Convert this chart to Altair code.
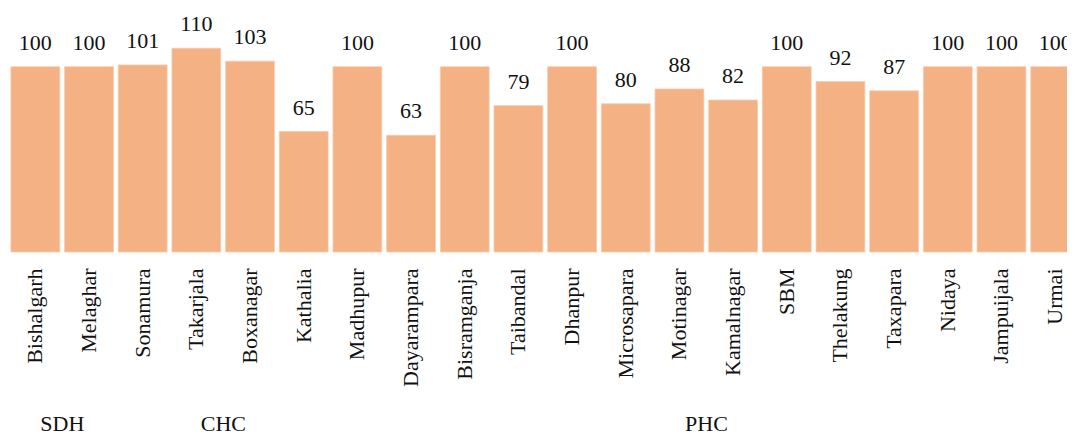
import altair as alt
import pandas as pd

facilities = ["Bishalgarh", "Melaghar", "Sonamura", "Takarjala", "Boxanagar", "Kathalia",
              "Madhupur", "Dayarampara", "Bisramganja", "Taibandal", "Dhanpur", "Microsapara",
              "Motinagar", "Kamalnagar", "SBM", "Thelakung", "Taxapara", "Nidaya",
              "Jampuijala", "Urmai"]
values = [100, 100, 101, 110, 103, 65, 100, 63, 100, 79, 100, 80, 88, 82, 100, 92, 87, 100, 100, 100]

group_names = ["SDH", "CHC", "PHC"]
group_anchor = ["Bishalgarh", "Takarjala", "Motinagar"]

df = pd.DataFrame({"facility": facilities, "value": values})
gdf = pd.DataFrame({"facility": group_anchor, "group": group_names, "zero": [0, 0, 0]})

FONT = "Liberation Serif"

xscale = alt.Scale(domain=facilities, range=[0.5, 1074], paddingInner=0.09, paddingOuter=0.045)
yscale = alt.Scale(domain=[0, 131.7])

x = alt.X("facility:N", sort=facilities, scale=xscale,
          axis=alt.Axis(title=None, labelAngle=-90, labelAlign="right", labelBaseline="middle",
                        labelFont=FONT, labelFontSize=22, labelColor="#111111",
                        labelPadding=16, ticks=False, domain=False, labelOverlap=False))
y = alt.Y("value:Q", scale=yscale, axis=None)

bars = alt.Chart(df).mark_bar(color="#F4B183", stroke="#F8CBAD", strokeWidth=0.8).encode(x=x, y=y)

labels = alt.Chart(df).mark_text(font=FONT, fontSize=22, color="#111111", baseline="alphabetic",
                                 dy=-17).encode(
    x=alt.X("facility:N", sort=facilities, scale=xscale),
    y=alt.Y("value:Q", scale=yscale),
    text=alt.Text("value:Q"))

groups = alt.Chart(gdf).mark_text(font=FONT, fontSize=22, color="#111111", baseline="alphabetic",
                                  dx=27, dy=179).encode(
    x=alt.X("facility:N", sort=facilities, scale=xscale),
    y=alt.Y("zero:Q", scale=yscale),
    text="group:N")

chart = alt.layer(bars, labels, groups).properties(
    width=1059, height=244,
    autosize=alt.AutoSizeParams(type="none"),
    padding={"left": 0, "top": 0, "right": 0, "bottom": 185},
).configure_view(stroke=None)

chart.save("out.html", embed_options={"renderer": "svg", "actions": False})
